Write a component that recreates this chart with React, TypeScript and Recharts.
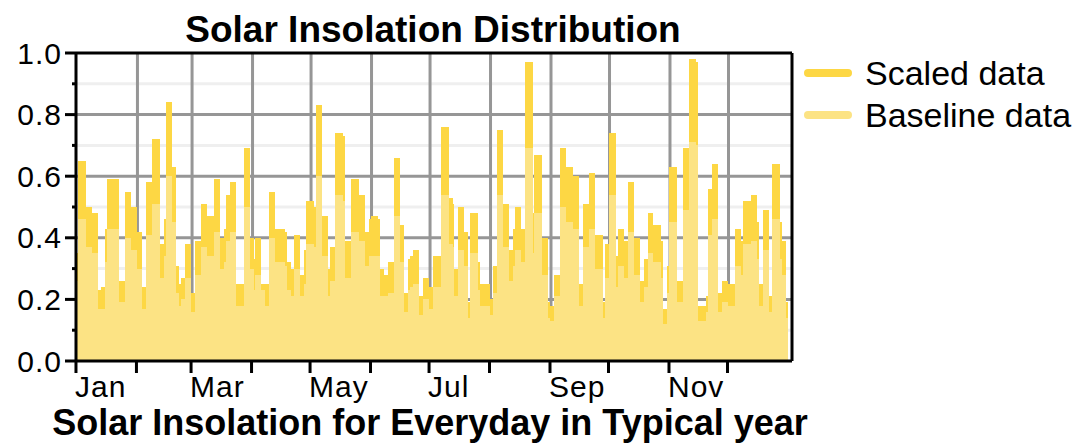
import { BarChart, Bar, XAxis, YAxis, CartesianGrid, Legend, Label } from 'recharts'

const MONTHS = ['Jan', 'Feb', 'Mar', 'Apr', 'May', 'Jun', 'Jul', 'Aug', 'Sep', 'Oct', 'Nov', 'Dec']
const MONTH_START_DAYS = [1, 32, 60, 91, 121, 152, 182, 213, 244, 274, 305, 335]
const Y_TICKS = [0, 0.1, 0.2, 0.3, 0.4, 0.5, 0.6, 0.7, 0.8, 0.9, 1.0]
const Y_MAJOR = [0.2, 0.4, 0.6, 0.8]
const Y_MINOR = [0.1, 0.3, 0.5, 0.7, 0.9]
const LEGEND_ORDER = ['Scaled data', 'Baseline data']

// daily values, one line per month
const SCALED = [
  0.35, 0.65, 0.65, 0.65, 0.65, 0.5, 0.5, 0.5, 0.48, 0.48, 0.48, 0.23, 0.23, 0.24, 0.24, 0.43, 0.59, 0.59, 0.59, 0.59, 0.59, 0.59, 0.26, 0.26, 0.26, 0.55, 0.55, 0.55, 0.5, 0.5, 0.5,
  0.42, 0.42, 0.42, 0.24, 0.24, 0.58, 0.58, 0.58, 0.72, 0.72, 0.72, 0.72, 0.38, 0.38, 0.46, 0.84, 0.84, 0.84, 0.63, 0.63, 0.31, 0.31, 0.25, 0.27, 0.27, 0.38, 0.38, 0.38,
  0.22, 0.22, 0.39, 0.39, 0.39, 0.51, 0.51, 0.51, 0.47, 0.47, 0.47, 0.47, 0.59, 0.59, 0.59, 0.4, 0.4, 0.43, 0.54, 0.54, 0.58, 0.58, 0.58, 0.25, 0.25, 0.25, 0.25, 0.69, 0.69, 0.69, 0.4,
  0.4, 0.33, 0.4, 0.4, 0.4, 0.25, 0.25, 0.25, 0.25, 0.55, 0.55, 0.55, 0.43, 0.43, 0.43, 0.43, 0.43, 0.42, 0.32, 0.32, 0.3, 0.3, 0.41, 0.41, 0.41, 0.28, 0.28, 0.36, 0.52, 0.52,
  0.52, 0.52, 0.5, 0.83, 0.83, 0.83, 0.47, 0.47, 0.47, 0.3, 0.37, 0.37, 0.37, 0.74, 0.74, 0.74, 0.74, 0.73, 0.39, 0.39, 0.39, 0.59, 0.59, 0.59, 0.59, 0.54, 0.54, 0.54, 0.42, 0.42, 0.46,
  0.47, 0.47, 0.47, 0.47, 0.46, 0.3, 0.3, 0.28, 0.28, 0.32, 0.32, 0.32, 0.66, 0.66, 0.66, 0.44, 0.44, 0.22, 0.22, 0.33, 0.34, 0.34, 0.36, 0.36, 0.36, 0.21, 0.21, 0.27, 0.27, 0.27,
  0.24, 0.24, 0.34, 0.34, 0.34, 0.34, 0.76, 0.76, 0.76, 0.76, 0.53, 0.53, 0.51, 0.3, 0.3, 0.5, 0.5, 0.5, 0.42, 0.42, 0.19, 0.48, 0.48, 0.48, 0.48, 0.32, 0.25, 0.25, 0.25, 0.25, 0.25,
  0.2, 0.2, 0.31, 0.31, 0.75, 0.75, 0.75, 0.51, 0.51, 0.51, 0.36, 0.36, 0.43, 0.5, 0.5, 0.5, 0.43, 0.43, 0.97, 0.97, 0.97, 0.97, 0.48, 0.67, 0.67, 0.67, 0.67, 0.4, 0.4, 0.4, 0.19,
  0.18, 0.18, 0.28, 0.28, 0.28, 0.69, 0.69, 0.69, 0.63, 0.63, 0.63, 0.63, 0.6, 0.6, 0.6, 0.25, 0.25, 0.51, 0.51, 0.51, 0.61, 0.61, 0.61, 0.41, 0.41, 0.41, 0.41, 0.19, 0.38, 0.38,
  0.74, 0.74, 0.74, 0.74, 0.34, 0.43, 0.43, 0.43, 0.39, 0.39, 0.58, 0.58, 0.58, 0.4, 0.4, 0.4, 0.26, 0.26, 0.33, 0.33, 0.48, 0.48, 0.48, 0.44, 0.44, 0.44, 0.44, 0.39, 0.17, 0.17, 0.31,
  0.63, 0.63, 0.63, 0.63, 0.26, 0.26, 0.26, 0.69, 0.69, 0.69, 0.98, 0.98, 0.98, 0.98, 0.97, 0.18, 0.18, 0.18, 0.18, 0.21, 0.56, 0.56, 0.64, 0.64, 0.64, 0.22, 0.22, 0.26, 0.26, 0.26,
  0.25, 0.25, 0.25, 0.25, 0.43, 0.43, 0.43, 0.39, 0.52, 0.52, 0.52, 0.52, 0.54, 0.54, 0.54, 0.45, 0.25, 0.25, 0.49, 0.49, 0.49, 0.21, 0.21, 0.64, 0.64, 0.64, 0.64, 0.45, 0.39, 0.39, 0.19,
]

const BASELINE = [
  0.26, 0.46, 0.46, 0.46, 0.46, 0.37, 0.37, 0.37, 0.35, 0.35, 0.35, 0.17, 0.17, 0.17, 0.17, 0.32, 0.43, 0.43, 0.43, 0.43, 0.43, 0.43, 0.19, 0.19, 0.19, 0.4, 0.4, 0.4, 0.36, 0.36, 0.36,
  0.3, 0.3, 0.3, 0.17, 0.17, 0.41, 0.41, 0.41, 0.51, 0.51, 0.51, 0.51, 0.27, 0.27, 0.34, 0.6, 0.6, 0.6, 0.45, 0.45, 0.22, 0.22, 0.18, 0.2, 0.2, 0.27, 0.27, 0.27,
  0.16, 0.16, 0.28, 0.28, 0.28, 0.37, 0.37, 0.37, 0.34, 0.34, 0.34, 0.34, 0.42, 0.42, 0.42, 0.3, 0.3, 0.32, 0.39, 0.39, 0.42, 0.42, 0.42, 0.18, 0.18, 0.18, 0.18, 0.5, 0.5, 0.5, 0.3,
  0.3, 0.23, 0.28, 0.28, 0.28, 0.23, 0.23, 0.18, 0.18, 0.4, 0.4, 0.4, 0.32, 0.32, 0.32, 0.32, 0.32, 0.31, 0.23, 0.23, 0.21, 0.21, 0.3, 0.3, 0.3, 0.21, 0.21, 0.25, 0.38, 0.38,
  0.38, 0.38, 0.37, 0.6, 0.6, 0.6, 0.34, 0.34, 0.34, 0.21, 0.26, 0.26, 0.26, 0.54, 0.54, 0.54, 0.54, 0.52, 0.27, 0.27, 0.27, 0.42, 0.42, 0.42, 0.42, 0.39, 0.39, 0.39, 0.31, 0.31, 0.34,
  0.34, 0.34, 0.34, 0.34, 0.34, 0.21, 0.21, 0.21, 0.21, 0.22, 0.22, 0.22, 0.47, 0.47, 0.47, 0.32, 0.32, 0.16, 0.16, 0.23, 0.24, 0.24, 0.25, 0.25, 0.25, 0.15, 0.15, 0.2, 0.2, 0.2,
  0.17, 0.17, 0.24, 0.24, 0.24, 0.24, 0.54, 0.54, 0.54, 0.54, 0.38, 0.38, 0.37, 0.21, 0.21, 0.36, 0.36, 0.36, 0.31, 0.31, 0.14, 0.35, 0.35, 0.35, 0.35, 0.23, 0.18, 0.18, 0.18, 0.18, 0.18,
  0.15, 0.15, 0.22, 0.22, 0.54, 0.54, 0.54, 0.37, 0.37, 0.37, 0.26, 0.26, 0.31, 0.36, 0.36, 0.36, 0.32, 0.32, 0.69, 0.69, 0.69, 0.69, 0.35, 0.48, 0.48, 0.48, 0.48, 0.28, 0.28, 0.28, 0.14,
  0.13, 0.13, 0.21, 0.21, 0.21, 0.5, 0.5, 0.5, 0.45, 0.45, 0.45, 0.45, 0.43, 0.43, 0.43, 0.18, 0.18, 0.37, 0.37, 0.37, 0.43, 0.43, 0.43, 0.3, 0.3, 0.3, 0.3, 0.14, 0.27, 0.27,
  0.54, 0.54, 0.54, 0.54, 0.24, 0.31, 0.31, 0.31, 0.27, 0.27, 0.42, 0.42, 0.42, 0.28, 0.28, 0.28, 0.19, 0.19, 0.24, 0.24, 0.35, 0.35, 0.35, 0.32, 0.32, 0.32, 0.32, 0.27, 0.12, 0.12, 0.22,
  0.45, 0.45, 0.45, 0.45, 0.19, 0.19, 0.19, 0.49, 0.49, 0.49, 0.71, 0.71, 0.71, 0.71, 0.7, 0.13, 0.13, 0.13, 0.13, 0.16, 0.41, 0.41, 0.46, 0.46, 0.46, 0.16, 0.16, 0.19, 0.19, 0.19,
  0.18, 0.18, 0.18, 0.18, 0.31, 0.31, 0.31, 0.28, 0.38, 0.38, 0.38, 0.38, 0.39, 0.39, 0.39, 0.33, 0.18, 0.18, 0.36, 0.36, 0.36, 0.16, 0.16, 0.46, 0.46, 0.46, 0.46, 0.33, 0.28, 0.28, 0.14,
]

const DAYS = SCALED.map((_, i) => i + 1)

const SCALED_COLOR = '#fdd744'
const BASELINE_COLOR = '#fce384'
const FONT = '"Liberation Sans", Arial, sans-serif'

const data = DAYS.map((day, i) => ({ day, scaled: SCALED[i], baseline: BASELINE[i] }))

function YTick({ x, y, payload }: any) {
  const v = payload.value as number
  const major = Math.round(v * 10) % 2 === 0
  return (
    <g>
      <line x1={x - (major ? 11 : 4)} x2={x} y1={y} y2={y} stroke="#000" strokeWidth={3} />
      {major && (
        <text x={x - 14} y={y} dy={10.5} textAnchor="end" fontFamily={FONT} fontSize={30} letterSpacing={1} fill="#000">
          {v.toFixed(1)}
        </text>
      )}
    </g>
  )
}

function XTick({ x, y, payload }: any) {
  const idx = MONTH_START_DAYS.indexOf(payload.value)
  const x0 = x - 1
  return (
    <g>
      <line x1={x0} x2={x0} y1={y} y2={y + 12} stroke="#000" strokeWidth={3} />
      {idx % 2 === 0 && (
        <text x={x0 - 1} y={y + 36} textAnchor="start" fontFamily={FONT} fontSize={30} letterSpacing={1} fill="#000">
          {MONTHS[idx]}
        </text>
      )}
    </g>
  )
}

function ChartTitle({ viewBox }: any) {
  const vb = viewBox ?? { x: 76, y: 0, width: 716, height: 53 }
  return (
    <text x={vb.x + vb.width / 2 - 1} y={vb.y + 42} textAnchor="middle" fontFamily={FONT} fontWeight="bold" fontSize={37} fill="#000">
      Solar Insolation Distribution
    </text>
  )
}

function AxisTitle({ viewBox }: any) {
  const vb = viewBox ?? { x: 76, y: 361, width: 716, height: 82 }
  return (
    <text x={vb.x + vb.width / 2 - 4} y={vb.y + 74} textAnchor="middle" fontFamily={FONT} fontWeight="bold" fontSize={36} fill="#000">
      Solar Insolation for Everyday in Typical year
    </text>
  )
}

function LegendContent({ payload }: any) {
  const items = [...(payload ?? [])].sort(
    (a: any, b: any) => LEGEND_ORDER.indexOf(a.value) - LEGEND_ORDER.indexOf(b.value),
  )
  return (
    <div>
      {items.map((p: any) => (
        <div key={p.value} style={{ display: 'flex', alignItems: 'center', height: 42 }}>
          <span style={{ display: 'inline-block', width: 48, height: 8, marginLeft: 4, marginRight: 13, background: p.color, borderRadius: 4 }} />
          <span style={{ fontFamily: FONT, fontSize: 34, color: '#000', whiteSpace: 'nowrap' }}>{p.value}</span>
        </div>
      ))}
    </div>
  )
}

export default function App() {
  const frame = { stroke: '#000', strokeWidth: 3 }
  return (
    <div style={{ position: 'fixed', left: 0, top: 0, width: 1080, height: 443, background: '#fff' }}>
      <style>{'.recharts-rectangle { shape-rendering: crispEdges; }'}</style>
      <BarChart
        width={1080}
        height={443}
        data={data}
        margin={{ top: 0, right: 287, bottom: 0, left: 0 }}
        barCategoryGap={0}
        barGap={0}
      >
        <CartesianGrid xAxisId="bottom" horizontalValues={Y_MINOR} vertical={false} stroke="#efefef" strokeWidth={3} />
        <CartesianGrid
          xAxisId="bottom"
          horizontalValues={Y_MAJOR}
          verticalValues={MONTH_START_DAYS.slice(1)}
          stroke="#969696"
          strokeWidth={3}
        />
        <XAxis
          xAxisId="bottom"
          dataKey="day"
          ticks={MONTH_START_DAYS}
          interval={0}
          tick={<XTick />}
          tickSize={0}
          tickMargin={0}
          tickLine={false}
          axisLine={frame}
          height={82}
          padding={{ left: 0, right: 4 }}
          label={<Label content={AxisTitle} />}
        />
        <XAxis
          xAxisId="top"
          orientation="top"
          dataKey="day"
          tick={false}
          tickLine={false}
          axisLine={frame}
          height={53}
          padding={{ left: 0, right: 4 }}
          label={<Label content={ChartTitle} />}
        />
        <YAxis
          domain={[0, 1]}
          ticks={Y_TICKS}
          interval={0}
          tick={<YTick />}
          tickSize={0}
          tickMargin={0}
          tickLine={false}
          axisLine={frame}
          width={76}
        />
        <YAxis yAxisId="right" orientation="right" domain={[0, 1]} tick={false} tickLine={false} axisLine={frame} width={1} />
        <Legend
          layout="vertical"
          align="center"
          verticalAlign="middle"
          wrapperStyle={{ left: 800, top: 52, width: 280 }}
          content={LegendContent}
        />
        <Bar dataKey="scaled" name="Scaled data" xAxisId="bottom" fill={SCALED_COLOR} isAnimationActive={false} />
        <Bar dataKey="baseline" name="Baseline data" xAxisId="top" fill={BASELINE_COLOR} isAnimationActive={false} />
      </BarChart>
    </div>
  )
}
